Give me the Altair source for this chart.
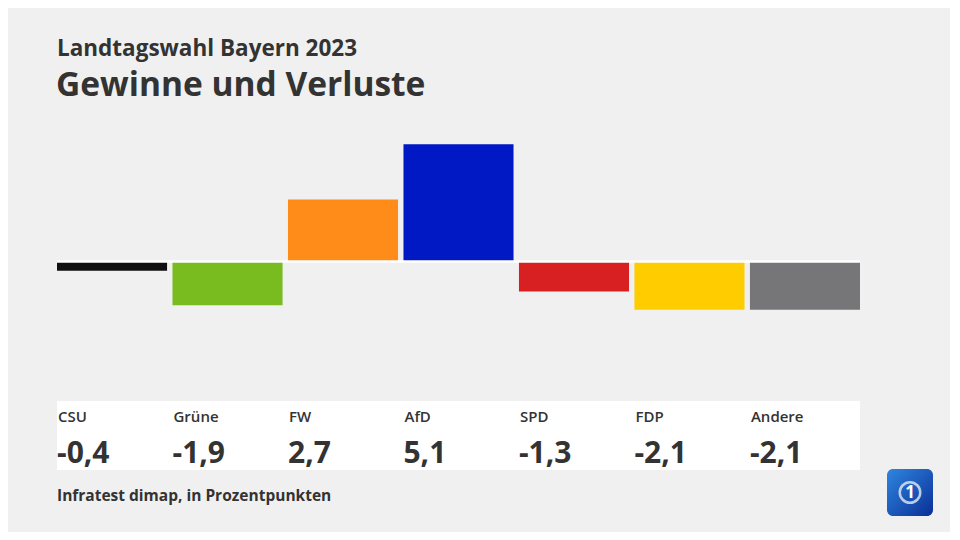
import altair as alt
import pandas as pd

parties = ["CSU", "Grüne", "FW", "AfD", "SPD", "FDP", "Andere"]
changes = [-0.4, -1.9, 2.7, 5.1, -1.3, -2.1, -2.1]
colors = ["#111111", "#79bc1f", "#ff8c18", "#0019c5", "#d82022", "#ffcc00", "#767678"]

title_top = "Landtagswahl Bayern 2023"
title_main = "Gewinne und Verluste"
source = "Infratest dimap, in Prozentpunkten"

df = pd.DataFrame({
    "party": parties,
    "value": changes,
    "color": colors,
    "label": [f"{v:.1f}".replace(".", ",") for v in changes],
})

W, H = 803, 350
FONT = "Open Sans"
TXT = "#333333"
DOM = [-9.065, 6.152]

xs = alt.X("party:N", sort=parties, axis=None,
           scale=alt.Scale(paddingInner=0.047, paddingOuter=0))
ys = alt.Y("value:Q", axis=None,
           scale=alt.Scale(domain=DOM, nice=False, zero=False))

base = alt.Chart(df)

bars = base.mark_bar().encode(
    x=xs, y=ys, y2=alt.datum(0),
    color=alt.Color("color:N", scale=None, legend=None),
)

zero = alt.Chart(pd.DataFrame({"z": [0]})).mark_rule(color="white", strokeWidth=2.5).encode(
    y=alt.Y("z:Q", scale=alt.Scale(domain=DOM, nice=False, zero=False), axis=None),
    x=alt.value(0), x2=alt.value(W),
)

panel = alt.Chart(pd.DataFrame({"a": [0]})).mark_rect(color="white").encode(
    x=alt.value(0), x2=alt.value(W), y=alt.value(281), y2=alt.value(350),
)

xl = alt.X("party:N", sort=parties, axis=None, bandPosition=0,
           scale=alt.Scale(paddingInner=0.047, paddingOuter=0))

names = base.mark_text(align="left", baseline="middle", font=FONT, fontSize=15,
                       fontWeight=600, color=TXT, dx=1).encode(
    x=xl, y=alt.value(297), text="party:N")

vals = base.mark_text(align="left", baseline="alphabetic", font=FONT, fontSize=30,
                      fontWeight="bold", color=TXT, dx=0).encode(
    x=xl, y=alt.value(343), text="label:N")

one = pd.DataFrame({"a": [0]})
t1 = alt.Chart(one).mark_text(text=title_top, align="left", baseline="alphabetic",
                              font=FONT, fontSize=22.5, fontWeight="bold", color=TXT).encode(
    x=alt.value(0), y=alt.value(-64))
t2 = alt.Chart(one).mark_text(text=title_main, align="left", baseline="alphabetic",
                              font=FONT, fontSize=33.5, fontWeight="bold", color=TXT).encode(
    x=alt.value(-1), y=alt.value(-24))
t3 = alt.Chart(one).mark_text(text=source, align="left", baseline="alphabetic",
                              font=FONT, fontSize=15.5, fontWeight="bold", color=TXT).encode(
    x=alt.value(0), y=alt.value(381))

logo_bg = alt.Chart(one).mark_rect(
    cornerRadius=6,
    color=alt.Gradient(gradient="linear", x1=0, y1=0, x2=1, y2=1,
                       stops=[alt.GradientStop(color="#2f86e0", offset=0),
                              alt.GradientStop(color="#0a2f96", offset=1)]),
).encode(x=alt.value(830), x2=alt.value(876), y=alt.value(349), y2=alt.value(396))
logo_ring = alt.Chart(one).mark_point(shape="circle", filled=False, color="white",
                                      strokeWidth=2.5, size=420).encode(
    x=alt.value(853), y=alt.value(372.5))
logo_one = alt.Chart(one).mark_text(text="1", font=FONT, fontSize=17, fontWeight="bold",
                                    color="white", align="center", baseline="middle").encode(
    x=alt.value(853), y=alt.value(373))

chart = alt.layer(bars, zero, panel, names, vals, t1, t2, t3, logo_bg, logo_ring, logo_one).properties(
    width=W, height=H,
    autosize=alt.AutoSizeParams(type="none"),
    padding={"left": 49, "top": 112, "right": 90, "bottom": 62},
    background="#f0f0f0",
).configure_view(stroke=None)

chart.save("out.html", embed_options={"renderer": "svg", "actions": False})
